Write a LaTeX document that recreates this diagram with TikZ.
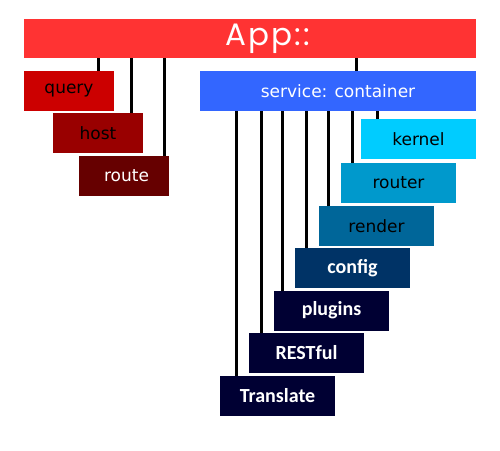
\documentclass[tikz,border=0pt]{standalone}
\usepackage{fontspec}
\setmainfont{DejaVu Sans}
\newfontfamily\popfont[LetterSpace=7]{Poppins}
\newfontfamily\carlfont{Carlito}
\definecolor{appred}{HTML}{FF3333}
\definecolor{cquery}{HTML}{CC0000}
\definecolor{chost}{HTML}{990000}
\definecolor{croute}{HTML}{660000}
\definecolor{cservice}{HTML}{3366FF}
\definecolor{ckernel}{HTML}{00CCFF}
\definecolor{crouter}{HTML}{0099CC}
\definecolor{crender}{HTML}{006699}
\definecolor{cconfig}{HTML}{003366}
\definecolor{cdark}{HTML}{000033}
\begin{document}
\begin{tikzpicture}[x=1pt,y=-1pt,
  box/.style={rectangle, inner sep=0pt, outer sep=0pt, minimum height=40pt},
  smallbox/.style={box, minimum width=90pt, font=\fontsize{17}{19}\selectfont},
  svcbox/.style={box, minimum width=115pt, font=\fontsize{17}{19}\selectfont},
  calbox/.style={box, minimum width=115pt, font=\carlfont\bfseries\fontsize{20}{22}\selectfont, text=white},
  wire/.style={line width=3pt, black}]
\useasboundingbox (0,0) rectangle (500,450);
\node[box, fill=appred, minimum width=452pt, minimum height=39pt, text=white,
  font=\popfont\fontsize{31}{33}\selectfont] (app) at (250,38.5) {\hspace*{36pt}App::};
\node[smallbox, fill=cquery] (query) at (69,90.5) {query};
\node[smallbox, fill=chost] (host) at (98,133) {host};
\node[smallbox, fill=croute, text=white] (route) at (124,175.5) {\hspace*{5pt}route};
\node[box, fill=cservice, minimum width=276pt, text=white, font=\fontsize{17}{19}\selectfont] (svc) at (338,91) {service: container};
\node[svcbox, fill=ckernel] (kernel) at (418.5,139) {kernel};
\node[svcbox, fill=crouter] (router) at (398.5,183) {router};
\node[svcbox, fill=crender] (render) at (376.5,226) {render};
\node[calbox, fill=cconfig] (config) at (352.5,268) {config};
\node[calbox, fill=cdark] (plugins) at (331.5,310.5) {plugins};
\node[calbox, fill=cdark] (restful) at (306.5,353) {RESTful};
\node[calbox, fill=cdark] (translate) at (277.5,396) {Translate};
% wires from App
\draw[wire] ([xshift=-16pt]query.north east) -- ([xshift=-16pt]query.north east |- app.south);
\draw[wire] ([xshift=-12pt]host.north east) -- ([xshift=-12pt]host.north east |- app.south);
\draw[wire] ([xshift=-5pt]route.north east) -- ([xshift=-5pt]route.north east |- app.south);
\draw[wire] ([xshift=18pt]svc.north) -- ([xshift=18pt]svc.north |- app.south);
% wires from service
\draw[wire] ([xshift=16pt]kernel.north west) -- ([xshift=16pt]kernel.north west |- svc.south);
\draw[wire] ([xshift=11pt]router.north west) -- ([xshift=11pt]router.north west |- svc.south);
\draw[wire] ([xshift=9pt]render.north west) -- ([xshift=9pt]render.north west |- svc.south);
\draw[wire] ([xshift=11pt]config.north west) -- ([xshift=11pt]config.north west |- svc.south);
\draw[wire] ([xshift=8pt]plugins.north west) -- ([xshift=8pt]plugins.north west |- svc.south);
\draw[wire] ([xshift=12pt]restful.north west) -- ([xshift=12pt]restful.north west |- svc.south);
\draw[wire] ([xshift=16pt]translate.north west) -- ([xshift=16pt]translate.north west |- svc.south);
\end{tikzpicture}
\end{document}
